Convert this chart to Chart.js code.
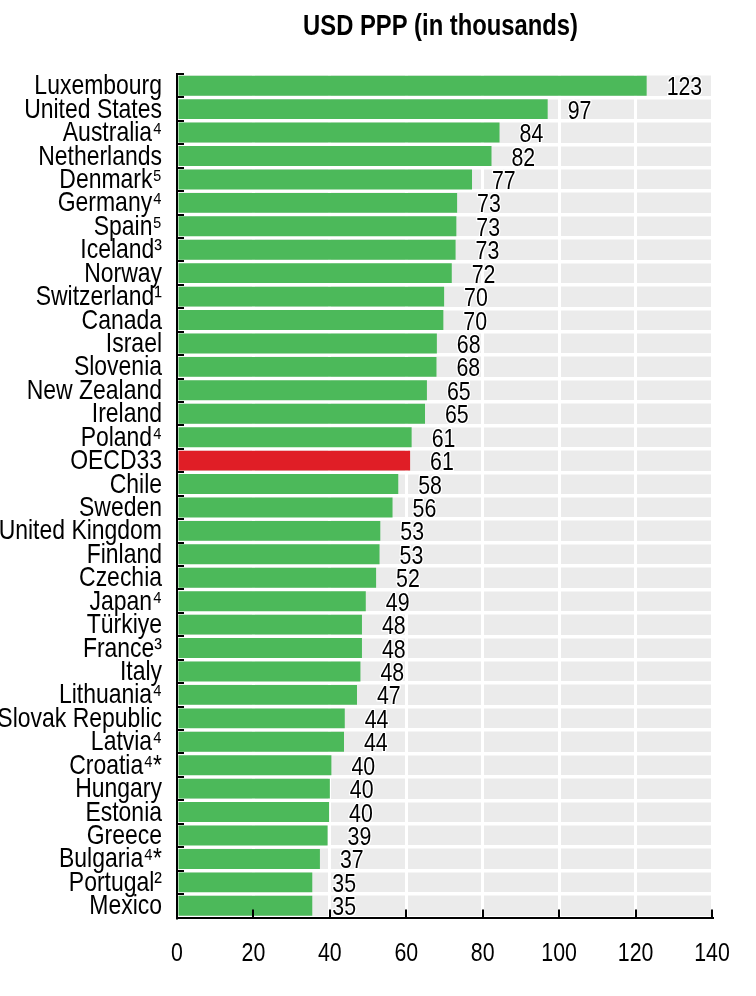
<!DOCTYPE html>
<html>
<head>
<meta charset="utf-8">
<script src="https://cdn.jsdelivr.net/npm/chart.js@4.4.0/dist/chart.umd.min.js"></script>
<style>
  html, body { margin: 0; padding: 0; background: #fff; }
</style>
</head>
<body>
<canvas id="chart" width="756" height="996"></canvas>
<script>
const countries = [
  "Luxembourg", "United States", "Australia⁴", "Netherlands", "Denmark⁵",
  "Germany⁴", "Spain⁵", "Iceland³", "Norway", "Switzerland¹", "Canada",
  "Israel", "Slovenia", "New Zealand", "Ireland", "Poland⁴", "OECD33",
  "Chile", "Sweden", "United Kingdom", "Finland", "Czechia", "Japan⁴",
  "Türkiye", "France³", "Italy", "Lithuania⁴", "Slovak Republic", "Latvia⁴",
  "Croatia⁴*", "Hungary", "Estonia", "Greece", "Bulgaria⁴*", "Portugal²", "Mexico"
];
const salaries = [
  122.9, 97.0, 84.4, 82.3, 77.2,
  73.3, 73.1, 72.9, 71.9, 69.9, 69.7,
  68.0, 67.9, 65.4, 64.9, 61.4, 61.0,
  57.9, 56.4, 53.2, 53.0, 52.1, 49.4,
  48.4, 48.4, 48.0, 47.1, 43.9, 43.7,
  40.4, 40.0, 39.8, 39.4, 37.4, 35.4, 35.4
];
const xTicks = [0, 20, 40, 60, 80, 100, 120, 140];
const highlight = "OECD33";
const chartTitle = "USD PPP (in thousands)";

// no Arial Narrow here, so squeeze Liberation Sans sideways
const FONT = '"Liberation Sans", Arial, sans-serif';
const SQUEEZE = 0.82;
const GREEN = "#4cb95a";
const RED = "#e01e26";

function narrowText(ctx, txt, x, y, align, font, halo) {
  ctx.save();
  ctx.translate(x, y);
  ctx.scale(SQUEEZE, 1);
  ctx.font = font;
  ctx.textAlign = align;
  ctx.textBaseline = "alphabetic";
  if (halo) {
    ctx.lineJoin = "round";
    ctx.strokeStyle = "#fff";
    ctx.lineWidth = 3;
    ctx.strokeText(txt, 0, 0);
  }
  ctx.fillStyle = "#000";
  ctx.fillText(txt, 0, 0);
  ctx.restore();
}

// grey plot background behind the white grid
const plotBackground = {
  id: "plotBackground",
  beforeDraw(chart) {
    const { ctx, chartArea: a } = chart;
    ctx.save();
    ctx.fillStyle = "#ebebeb";
    ctx.fillRect(a.left, a.top, a.right - a.left, a.bottom - a.top);
    ctx.restore();
  }
};

// numbers at the end of the bars
const valueLabels = {
  id: "valueLabels",
  afterDatasetsDraw(chart) {
    const meta = chart.getDatasetMeta(0);
    meta.data.forEach((bar, i) => {
      const txt = String(Math.round(salaries[i]));
      narrowText(chart.ctx, txt, bar.x + 20, bar.y + 9.5, "left", "26px " + FONT, true);
    });
  }
};

// tick labels, inward tick marks and the title
const axisExtras = {
  id: "axisExtras",
  afterDraw(chart) {
    const { ctx, chartArea: a, scales } = chart;
    ctx.save();
    ctx.strokeStyle = "#000";
    ctx.lineWidth = 2;
    ctx.beginPath();
    const n = countries.length;
    const step = (a.bottom - a.top) / n;
    for (let i = 0; i < n; i++) {
      const y = Math.round(a.top + i * step);
      ctx.moveTo(a.left, y);
      ctx.lineTo(a.left + 7, y);
    }
    xTicks.forEach((v) => {
      const x = Math.round(scales.x.getPixelForValue(v));
      ctx.moveTo(x, a.bottom);
      ctx.lineTo(x, a.bottom - 8);
    });
    ctx.stroke();
    ctx.restore();

    countries.forEach((c, i) => {
      const y = scales.y.getPixelForTick(i);
      narrowText(ctx, c, a.left - 15, y + 8.5, "right", "28px " + FONT, false);
    });
    xTicks.forEach((v) => {
      const x = scales.x.getPixelForValue(v);
      narrowText(ctx, String(v), x, a.bottom + 43.5, "center", "26px " + FONT, false);
    });
    narrowText(ctx, chartTitle, (a.left + a.right) / 2 - 4, 35, "center", "bold 29px " + FONT, false);
  }
};

const ctx = document.getElementById("chart").getContext("2d");
new Chart(ctx, {
  type: "bar",
  data: {
    labels: countries,
    datasets: [{
      data: salaries,
      backgroundColor: countries.map((c) => (c === highlight ? RED : GREEN)),
      borderWidth: 0,
      barPercentage: 1,
      categoryPercentage: 0.85
    }]
  },
  options: {
    indexAxis: "y",
    responsive: false,
    animation: false,
    layout: { padding: { top: 74, right: 44, bottom: 0, left: 0 } },
    plugins: {
      legend: { display: false },
      tooltip: { enabled: false },
      title: { display: false }
    },
    scales: {
      x: {
        type: "linear",
        min: 0,
        max: 140,
        afterBuildTicks: (s) => { s.ticks = xTicks.map((v) => ({ value: v })); },
        afterFit: (s) => { s.height = 78.5; },
        ticks: { display: false },
        grid: { color: "#fff", lineWidth: 3, drawTicks: false },
        border: { display: true, color: "#000", width: 2 }
      },
      y: {
        afterFit: (s) => { s.width = 177; },
        ticks: { display: false, autoSkip: false },
        grid: { color: "#fff", lineWidth: 3.5, drawTicks: false, offset: true },
        border: { display: true, color: "#000", width: 2 }
      }
    }
  },
  plugins: [plotBackground, valueLabels, axisExtras]
});
</script>
</body>
</html>
